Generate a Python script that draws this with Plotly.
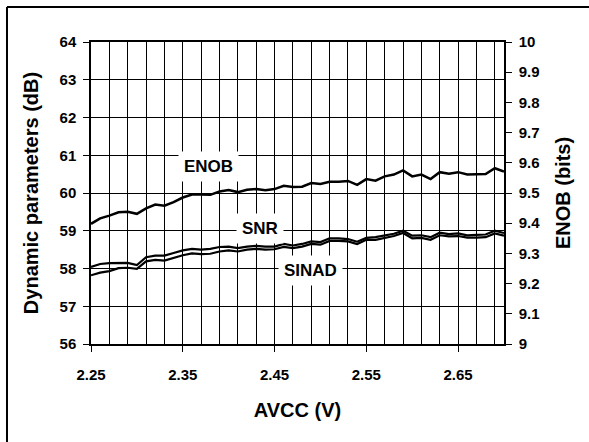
import plotly.graph_objects as go

avcc = [round(2.25 + 0.01 * i, 2) for i in range(46)]

enob = [9.398, 9.416, 9.425, 9.436, 9.438, 9.431, 9.449, 9.462, 9.458, 9.470,
        9.485, 9.495, 9.495, 9.494, 9.505, 9.510, 9.503, 9.511, 9.513, 9.509,
        9.513, 9.524, 9.520, 9.521, 9.533, 9.530, 9.537, 9.537, 9.540, 9.527,
        9.546, 9.541, 9.555, 9.561, 9.575, 9.555, 9.561, 9.546, 9.569, 9.564,
        9.569, 9.561, 9.562, 9.563, 9.582, 9.571]

snr = [58.04, 58.12, 58.14, 58.15, 58.15, 58.09, 58.30, 58.34, 58.34, 58.41,
       58.48, 58.52, 58.50, 58.52, 58.57, 58.58, 58.54, 58.58, 58.60, 58.58,
       58.58, 58.65, 58.61, 58.65, 58.72, 58.70, 58.80, 58.80, 58.78, 58.71,
       58.81, 58.83, 58.88, 58.92, 59.00, 58.87, 58.88, 58.83, 58.95, 58.91,
       58.93, 58.88, 58.89, 58.90, 59.00, 58.94]

sinad = [57.82, 57.89, 57.93, 58.01, 58.02, 57.99, 58.19, 58.23, 58.21, 58.29,
         58.35, 58.40, 58.38, 58.39, 58.45, 58.48, 58.45, 58.50, 58.52, 58.50,
         58.51, 58.57, 58.54, 58.58, 58.65, 58.63, 58.73, 58.73, 58.72, 58.65,
         58.76, 58.76, 58.81, 58.86, 58.94, 58.80, 58.81, 58.76, 58.88, 58.85,
         58.86, 58.82, 58.82, 58.83, 58.93, 58.87]

x_ticks = [2.25, 2.35, 2.45, 2.55, 2.65]
x_tick_labels = ["2.25", "2.35", "2.45", "2.55", "2.65"]
y_left_ticks = [56, 57, 58, 59, 60, 61, 62, 63, 64]
y_right_ticks = [9.0, 9.1, 9.2, 9.3, 9.4, 9.5, 9.6, 9.7, 9.8, 9.9, 10.0]
y_right_labels = ["9", "9.1", "9.2", "9.3", "9.4", "9.5", "9.6", "9.7", "9.8", "9.9", "10"]

labels = [("ENOB", 2.3785, 60.69), ("SNR", 2.434, 59.05), ("SINAD", 2.4897, 57.96)]

FONT = "Liberation Sans, Arial, Helvetica, sans-serif"
tickfont = dict(family=FONT, size=15, color="black", weight="bold")
titlefont = dict(family=FONT, size=20, color="black", weight="bold")

fig = go.Figure()
fig.add_trace(go.Scatter(x=avcc, y=snr, mode="lines", line=dict(color="black", width=2.2),
                         name="SNR", hoverinfo="x+y"))
fig.add_trace(go.Scatter(x=avcc, y=sinad, mode="lines", line=dict(color="black", width=2.2),
                         name="SINAD", hoverinfo="x+y"))
fig.add_trace(go.Scatter(x=avcc, y=enob, mode="lines", line=dict(color="black", width=2.5),
                         name="ENOB", yaxis="y2", hoverinfo="x+y"))

for txt, xv, yv in labels:
    fig.add_annotation(x=xv, y=yv, xref="x", yref="y", text="<b>" + txt + "</b>",
                       showarrow=False, bgcolor="white", borderpad=5,
                       font=dict(family=FONT, size=17, color="black"))

# outer frame (left and top edges)
fig.add_shape(type="line", xref="paper", yref="paper", x0=-0.2034, x1=-0.2034,
              y0=1.1159, y1=-0.40, line=dict(color="black", width=2))
fig.add_shape(type="line", xref="paper", yref="paper", x0=-0.2034, x1=1.25,
              y0=1.1159, y1=1.1159, line=dict(color="black", width=2))

fig.update_layout(
    width=589, height=442,
    margin=dict(l=91, r=85, t=42, b=98),
    paper_bgcolor="white", plot_bgcolor="white",
    showlegend=False,
    xaxis=dict(
        range=[2.25, 2.70], tickmode="array", tickvals=x_ticks, ticktext=x_tick_labels,
        ticks="outside", ticklen=6, tickwidth=1, tickcolor="black",
        showgrid=True, gridcolor="black", gridwidth=1,
        minor=dict(tickmode="linear", tick0=2.25, dtick=0.02, showgrid=True,
                   gridcolor="black", gridwidth=1, ticks=""),
        showline=True, linecolor="black", linewidth=1.5, mirror=True,
        tickfont=tickfont, ticklabelstandoff=10, zeroline=False,
        title=dict(text="AVCC (V)", font=titlefont, standoff=21),
    ),
    yaxis=dict(
        range=[56, 64], tickmode="array", tickvals=y_left_ticks,
        ticks="outside", ticklen=6, tickwidth=1, tickcolor="black",
        showgrid=True, gridcolor="black", gridwidth=1,
        showline=True, linecolor="black", linewidth=1.5, mirror=True,
        tickfont=tickfont, zeroline=False, ticklabelstandoff=4,
        title=dict(text="Dynamic parameters (dB)", font=titlefont, standoff=16),
    ),
    yaxis2=dict(
        range=[9, 10], overlaying="y", side="right", tickmode="array",
        tickvals=y_right_ticks, ticktext=y_right_labels,
        ticks="outside", ticklen=6, tickwidth=1, tickcolor="black",
        showgrid=False, showline=True, linecolor="black", linewidth=1.5,
        tickfont=tickfont, zeroline=False, ticklabelstandoff=4,
        title=dict(text="ENOB (bits)", font=titlefont, standoff=17),
    ),
)

fig.write_html("out.html", config={"displayModeBar": False},
               post_script="document.body.style.margin='0';")
